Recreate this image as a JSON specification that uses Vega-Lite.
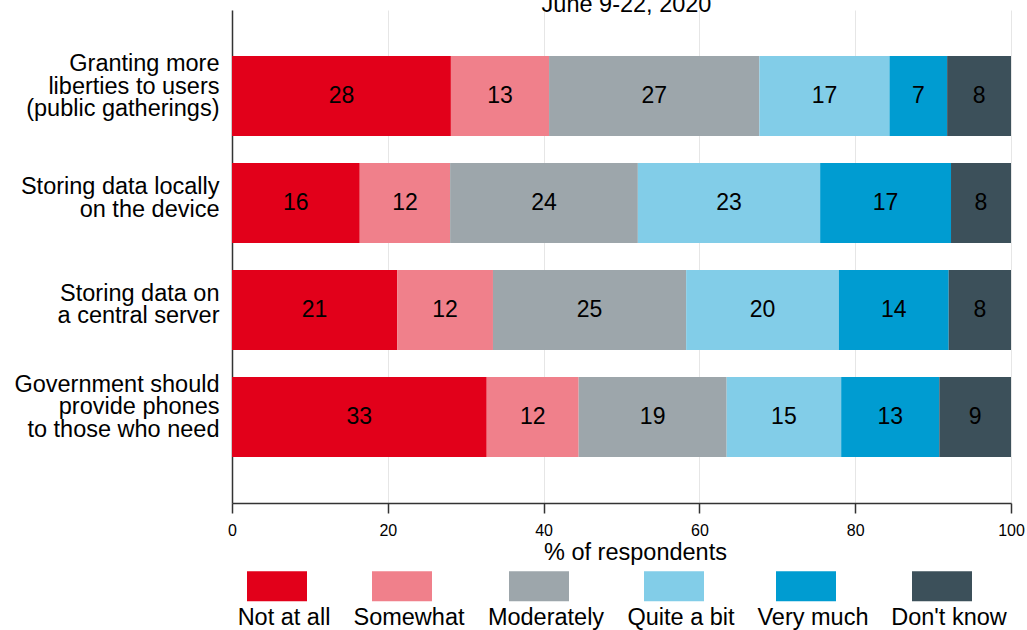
{
  "$schema": "https://vega.github.io/schema/vega-lite/v6.json",
  "width": 779,
  "height": 493,
  "autosize": {"type": "none"},
  "padding": {"left": 232, "top": 10, "right": 16, "bottom": 127},
  "background": "white",
  "title": {"text": "June 9-22, 2020", "fontSize": 23.5, "font": "Liberation Sans", "fontWeight": "normal", "color": "black", "baseline": "alphabetic", "offset": 0, "dy": 25, "anchor": "middle", "dx": 5},
  "config": {"view": {"stroke": null}, "font": "Liberation Sans"},
  "data": {"values": [
    {"item": "Granting more|liberties to users|(public gatherings)", "response": "Not at all", "value": 28.1},
    {"item": "Granting more|liberties to users|(public gatherings)", "response": "Somewhat", "value": 12.6},
    {"item": "Granting more|liberties to users|(public gatherings)", "response": "Moderately", "value": 27.0},
    {"item": "Granting more|liberties to users|(public gatherings)", "response": "Quite a bit", "value": 16.7},
    {"item": "Granting more|liberties to users|(public gatherings)", "response": "Very much", "value": 7.4},
    {"item": "Granting more|liberties to users|(public gatherings)", "response": "Don't know", "value": 8.2},
    {"item": "Storing data locally|on the device", "response": "Not at all", "value": 16.4},
    {"item": "Storing data locally|on the device", "response": "Somewhat", "value": 11.6},
    {"item": "Storing data locally|on the device", "response": "Moderately", "value": 24.1},
    {"item": "Storing data locally|on the device", "response": "Quite a bit", "value": 23.4},
    {"item": "Storing data locally|on the device", "response": "Very much", "value": 16.8},
    {"item": "Storing data locally|on the device", "response": "Don't know", "value": 7.7},
    {"item": "Storing data on|a central server", "response": "Not at all", "value": 21.2},
    {"item": "Storing data on|a central server", "response": "Somewhat", "value": 12.3},
    {"item": "Storing data on|a central server", "response": "Moderately", "value": 24.8},
    {"item": "Storing data on|a central server", "response": "Quite a bit", "value": 19.6},
    {"item": "Storing data on|a central server", "response": "Very much", "value": 14.1},
    {"item": "Storing data on|a central server", "response": "Don't know", "value": 8.0},
    {"item": "Government should|provide phones|to those who need", "response": "Not at all", "value": 32.7},
    {"item": "Government should|provide phones|to those who need", "response": "Somewhat", "value": 11.8},
    {"item": "Government should|provide phones|to those who need", "response": "Moderately", "value": 19.0},
    {"item": "Government should|provide phones|to those who need", "response": "Quite a bit", "value": 14.7},
    {"item": "Government should|provide phones|to those who need", "response": "Very much", "value": 12.6},
    {"item": "Government should|provide phones|to those who need", "response": "Don't know", "value": 9.2}
  ]},
  "transform": [
    {"calculate": "indexof(['Not at all', 'Somewhat', 'Moderately', 'Quite a bit', 'Very much', \"Don't know\"], datum.response)", "as": "response_order"}
  ],
  "encoding": {
    "y": {
      "field": "item", "type": "nominal",
      "sort": ["Granting more|liberties to users|(public gatherings)", "Storing data locally|on the device", "Storing data on|a central server", "Government should|provide phones|to those who need"],
      "scale": {"paddingInner": 0.2523, "paddingOuter": 0.43},
      "axis": {
        "title": null, "labelExpr": "split(datum.label, '|')", "labelFontSize": 23.5, "labelLineHeight": 22.5, "labelColor": "black", "ticks": false, "labelPadding": 13, "domainColor": "#333333", "domainWidth": 1.5, "labelLimit": 400,
        "labelOffset": {"condition": {"test": "length(split(datum.label, '|')) == 3", "value": -32}, "value": -16}
      }
    },
    "order": {"field": "response_order", "type": "quantitative", "sort": "ascending"}
  },
  "layer": [
    {
      "mark": {"type": "bar"},
      "encoding": {
        "x": {
          "field": "value", "type": "quantitative", "stack": "zero",
          "scale": {"domain": [0, 100], "nice": false},
          "axis": {"title": "% of respondents", "titleFontSize": 23.5, "titleFontWeight": "normal", "titleColor": "black", "titlePadding": 2, "titleX": 403, "values": [0, 20, 40, 60, 80, 100], "labelFontSize": 16, "labelColor": "black", "labelFlush": false, "tickSize": 10, "tickColor": "#333333", "tickWidth": 1.5, "domainColor": "#333333", "domainWidth": 1.5, "grid": true, "gridColor": "#e6e6e6", "labelPadding": 9}
        },
        "color": {
          "field": "response", "type": "nominal",
          "sort": ["Not at all", "Somewhat", "Moderately", "Quite a bit", "Very much", "Don't know"],
          "scale": {
            "domain": ["Not at all", "Somewhat", "Moderately", "Quite a bit", "Very much", "Don't know"],
            "range": ["#E2001A", "#F0808B", "#9DA6AB", "#82CDE8", "#009CD1", "#3C505A"]
          },
          "legend": {
            "title": null, "orient": "none", "legendX": 15, "legendY": 546, "direction": "horizontal", "columns": 6,
            "symbolType": "M-1,-0.5H1V0.5H-1Z", "symbolSize": 3600, "symbolStrokeWidth": 0, "symbolOpacity": 1,
            "labelFontSize": 23.5, "labelColor": "black", "labelAlign": "center", "labelOffset": -23, "labelBaseline": "middle", "labelLimit": 300,
            "columnPadding": 22,
            "encode": {"labels": {"update": {"dy": {"value": 32}}}}
          }
        }
      }
    },
    {
      "mark": {"type": "text", "fontSize": 23, "color": "black"},
      "encoding": {
        "x": {"field": "value", "type": "quantitative", "stack": "zero", "bandPosition": 0.5},
        "text": {"field": "value", "type": "quantitative", "format": ".0f"},
        "detail": {"field": "response", "type": "nominal"}
      }
    }
  ]
}
